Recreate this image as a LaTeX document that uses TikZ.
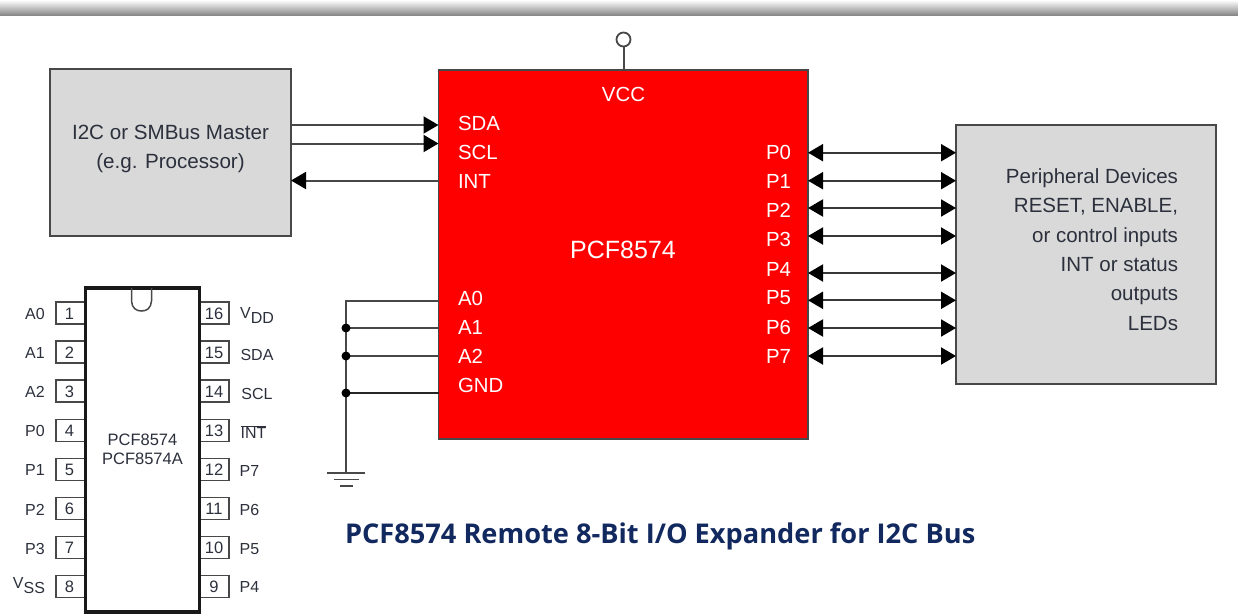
\documentclass[tikz,border=0pt]{standalone}
\usepackage{fontspec}
\setmainfont{Liberation Sans}
\newfontfamily\titlefont{Open Sans}
\usetikzlibrary{arrows.meta,calc,shadings}
\definecolor{linegray}{HTML}{484848}
\definecolor{boxgray}{HTML}{D9D9D9}
\definecolor{txtdark}{HTML}{2B303C}
\definecolor{titleblue}{HTML}{12295F}
\tikzset{
  x=1pt,y=-1pt,
  every node/.append style={outer sep=0pt},
  graybox/.style={draw=linegray,fill=boxgray,line width=1.8pt,minimum width=#1,inner sep=0pt,anchor=north west},
  wire/.style={draw=linegray,line width=2pt},
  thinwire/.style={draw=black!85,line width=1.6pt},
  tip/.style={-{Triangle[length=15pt,width=17pt,color=black]}},
  dualtip/.style={{Triangle[length=15pt,width=17pt,color=black]}-{Triangle[length=15pt,width=17pt,color=black]}},
  whitelabel/.style={text=white,font=\fontsize{20.4}{24}\selectfont,inner sep=0pt,anchor=west},
  pinlabel/.style={text=txtdark,font=\fontsize{16}{18}\selectfont,inner sep=0pt},
  pinnum/.style={text=txtdark,font=\fontsize{16.5}{18}\selectfont,inner sep=0pt},
  pinbox/.style={draw=linegray,line width=1.5pt,fill=white,minimum width=29pt,minimum height=22pt,inner sep=0pt},
  junction/.style={circle,fill=black,inner sep=0pt,minimum size=9pt},
  gndbar/.style={draw=linegray,line width=1.6pt},
}
\begin{document}
\begin{tikzpicture}
\useasboundingbox (0,0) rectangle (1238,614);
\clip (0,0) rectangle (1238,614);
% top band
\fill[top color=white,bottom color=black!48,shading angle=0] (0,0) rectangle (1238,15.5);

% main blocks
\node[graybox=241pt,minimum height=167pt,text=txtdark] (master) at (50,69) {};
\node[text=txtdark,font=\fontsize{20.6}{29}\selectfont,align=center,inner sep=0pt] (mastertext) at (170.5,149) {I2C or SMBus Master\\(e.g. Processor)};
\node[draw=linegray,fill=red,line width=1.8pt,minimum width=369.5pt,minimum height=369pt,inner sep=0pt,anchor=north west] (chip) at (438.5,70) {};
\node[graybox=260pt,minimum height=259pt] (periph) at (956,125) {};
\node[text=txtdark,font=\fontsize{20.5}{29.4}\selectfont,align=right,inner sep=0pt,anchor=east] (periphtext) at (1178,249.5) {Peripheral Devices\\RESET, ENABLE,\\or control inputs\\INT or status\\outputs\\LEDs};

% red chip labels
\node[text=white,font=\fontsize{20.4}{24}\selectfont,inner sep=0pt] (vcc) at (623.5,94) {VCC};
\node[text=white,font=\fontsize{25}{28}\selectfont,inner sep=0pt] (name) at (623,249.5) {PCF8574};
\node[whitelabel] (lsda) at (458,123) {SDA};
\node[whitelabel] (lscl) at (458,152) {SCL};
\node[whitelabel] (lint) at (458,181) {INT};
\node[whitelabel] (la0) at (458,298) {A0};
\node[whitelabel] (la1) at (458,327) {A1};
\node[whitelabel] (la2) at (458,356) {A2};
\node[whitelabel] (lgnd) at (458,385.5) {GND};
\foreach \n/\y in {0/152.5,1/181,2/210,3/239.5,4/269,5/298,6/327,7/356}
  \node[whitelabel] (lp\n) at (766,\y) {P\n};

% VCC terminal
\node[circle,draw=linegray,line width=1.8pt,fill=white,minimum size=14pt,inner sep=0pt] (vccterm) at (623.5,39.5) {};
\draw[wire] (vccterm) -- (vccterm |- chip.north);

% master connections
\coordinate (msda) at (master.east |- 0,125);
\coordinate (mscl) at (master.east |- 0,143.5);
\coordinate (mint) at (master.east |- 0,180.5);
\draw[wire,tip] (msda) -- (chip.west |- msda);
\draw[wire,tip] (mscl) -- (chip.west |- mscl);
\draw[wire,tip] (chip.west |- mint) -- (mint);

% peripheral connections
\foreach \n/\y in {0/152.7,1/180.7,2/208,3/236,4/273,5/300.3,6/328,7/356}{
  \coordinate (pc\n) at (chip.east |- 0,\y);
  \draw[line width=2pt,draw=black!78,dualtip] (pc\n) -- (periph.west |- pc\n);
}

% address and ground wiring
\coordinate (corner) at (346,300.7);
\coordinate (gnd) at (346,473);
\coordinate (jc1) at (346,328);
\coordinate (jc2) at (346,356);
\coordinate (jc3) at (346,393);
\draw[wire] (chip.west |- corner) -- (corner) -- (gnd);
\draw[wire] (jc1) -- (chip.west |- jc1);
\draw[wire] (jc2) -- (chip.west |- jc2);
\draw[thinwire] (jc3) -- (chip.west |- jc3);
\node[junction] (j1) at (jc1) {};
\node[junction] (j2) at (jc2) {};
\node[junction] (j3) at (jc3) {};
\coordinate (g1l) at (327,473); \coordinate (g1r) at (365,473);
\coordinate (g2l) at (334,479.5); \coordinate (g2r) at (359,479.5);
\coordinate (g3l) at (340,485.7); \coordinate (g3r) at (353,485.7);
\draw[gndbar] (g1l) -- (g1r);
\draw[gndbar] (g2l) -- (g2r);
\draw[gndbar] (g3l) -- (g3r);

% DIP package pins
\foreach \n/\t [count=\i from 0] in {1/A0,2/A1,3/A2,4/P0,5/P1,6/P2,7/P3}{
  \node[pinbox] (bl\n) at (70.5,{313+39.1*\i}) {};
  \node[pinnum] at (69.5,{313+39.1*\i+0.5}) {\n};
  \node[pinlabel] at (35,{313+39.1*\i+1}) {\t};
}
\node[pinbox] (bl8) at (70.5,586.7) {};
\node[pinnum] at (69.5,587) {8};
\node[pinlabel] at (29,586) {V\raisebox{-5pt}{SS}};
\foreach \n/\k in {16/0,15/1,14/2,13/3,12/4,11/5,10/6,9/7}{
  \node[pinbox] (br\n) at (214.5,{313+39.1*\k}) {};
  \node[pinnum] at (214,{313+39.1*\k+0.5}) {\n};
}
\node[pinlabel] at (257,315.5) {V\raisebox{-5pt}{DD}};
\node[pinlabel] at (257,355) {SDA};
\node[pinlabel] at (257,394) {SCL};
\node[pinlabel] at (253.5,432) {$\overline{\mbox{INT}}$};
\node[pinlabel] at (249.5,471) {P7};
\node[pinlabel] at (249.5,510) {P6};
\node[pinlabel] at (249.5,549) {P5};
\node[pinlabel] at (249.5,587) {P4};

% DIP body
\node[draw=black!90,line width=3.6pt,fill=white,minimum width=114pt,minimum height=324pt,inner sep=0pt,anchor=north west] (dip) at (85.5,288) {};
\draw[draw=linegray,line width=1.5pt] (131.5,288) -- (131.5,301) .. controls (132,308) and (136,311) .. (141.5,311) .. controls (147,311) and (151,308) .. (151.5,301) -- (151.5,288);
\node[text=txtdark,font=\fontsize{16.5}{19}\selectfont,align=center,inner sep=0pt] (diptext) at (142.5,449.5) {PCF8574\\PCF8574A};

% title
\node[text=titleblue,font=\titlefont\bfseries\fontsize{27.2}{30}\selectfont,inner sep=0pt,anchor=west] (title) at (345,536) {PCF8574 Remote 8-Bit I/O Expander for I2C Bus};
\end{tikzpicture}
\end{document}
